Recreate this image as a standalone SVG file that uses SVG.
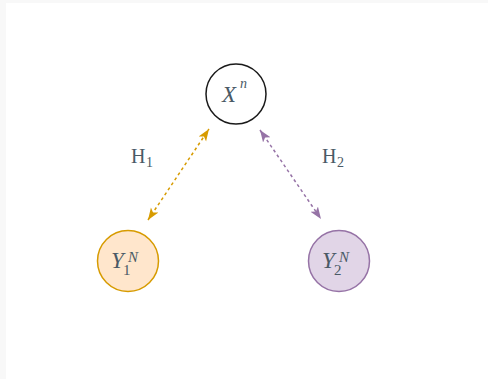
<svg xmlns="http://www.w3.org/2000/svg" width="488" height="379" viewBox="0 0 488 379">
<style>
.t{font-family:"Liberation Serif","DejaVu Serif",serif;fill:#4a5a66;}
.v{font-style:italic;}
.edge{fill:none;stroke-width:1.5;stroke-dasharray:3 3;}
</style>
<defs>
<marker id="ao" viewBox="0 0 12 12" refX="12" refY="6" markerWidth="12" markerHeight="12" markerUnits="userSpaceOnUse" orient="auto-start-reverse">
<path d="M0,1.5 L12,6 L0,10.5 L3,6 Z" fill="#d79b00"/>
</marker>
<marker id="ap" viewBox="0 0 12 12" refX="12" refY="6" markerWidth="12" markerHeight="12" markerUnits="userSpaceOnUse" orient="auto-start-reverse">
<path d="M0,1.5 L12,6 L0,10.5 L3,6 Z" fill="#9673a6"/>
</marker>
</defs>
<rect x="0" y="0" width="488" height="379" fill="#f8f8f8"/>
<rect x="6" y="3" width="482" height="376" fill="#ffffff"/>
<g id="connectors">
<path class="edge" d="M148,220 L209,129" stroke="#d79b00" marker-start="url(#ao)" marker-end="url(#ao)"/>
<path class="edge" d="M260,130 L321,219" stroke="#9673a6" marker-start="url(#ap)" marker-end="url(#ap)"/>
<text class="t" x="131" y="163" font-size="20">H<tspan font-size="14" x="146" y="167">1</tspan></text>
<text class="t" x="322" y="163" font-size="20">H<tspan font-size="14" x="337" y="167">2</tspan></text>
</g>
<g id="node-x">
<circle cx="236" cy="94" r="30" fill="#ffffff" stroke="#1a1a1a" stroke-width="1.5"/>
<text class="t v" x="222" y="102" font-size="23">X<tspan font-size="14" x="240" y="88">n</tspan></text>
</g>
<g id="node-y1">
<circle cx="128" cy="261" r="30.5" fill="#ffe6cc" stroke="#d79b00" stroke-width="1.5"/>
<text class="t v" x="111" y="268" font-size="23">Y<tspan font-size="15" font-style="normal" x="123" y="275">1</tspan><tspan font-size="15" x="128" y="262">N</tspan></text>
</g>
<g id="node-y2">
<circle cx="339" cy="261" r="30.5" fill="#e1d5e7" stroke="#9673a6" stroke-width="1.5"/>
<text class="t v" x="322" y="268" font-size="23">Y<tspan font-size="15" font-style="normal" x="334" y="275">2</tspan><tspan font-size="15" x="339" y="262">N</tspan></text>
</g>
</svg>
